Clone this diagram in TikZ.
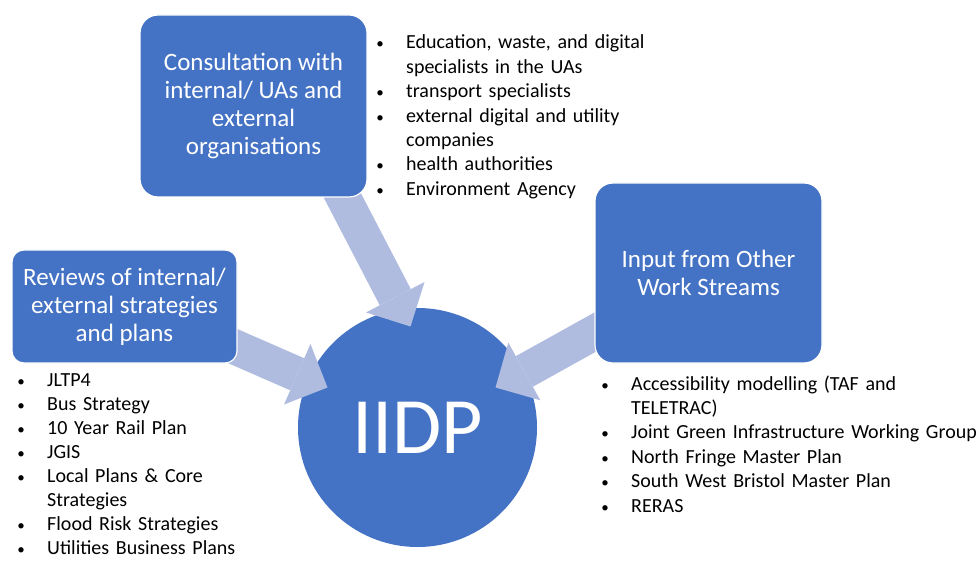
\documentclass[tikz,border=0pt]{standalone}
\usepackage{fontspec}
\setmainfont{Carlito}
\usetikzlibrary{positioning}
\usetikzlibrary{calc}
\usetikzlibrary{arrows.meta}
\definecolor{boxblue}{HTML}{4472C4}
\definecolor{flowblue}{HTML}{AFBCE0}
\pgfdeclarelayer{bg}
\pgfdeclarelayer{mid}
\pgfsetlayers{bg,mid,main}
\tikzset{
    box/.style = {rectangle, rounded corners=18pt, draw=white, line width=1.2pt, fill=boxblue, text=white, align=center, font=\fontsize{25}{28}\selectfont},
    hub/.style = {circle, fill=boxblue, text=white, minimum size=239pt, inner sep=0pt, font=\fontsize{80}{80}\selectfont},
    flow/.style = {draw=flowblue, line width=35pt, -{Triangle[width=66pt,length=33pt,line width=0pt]}},
    items/.style = {anchor=base west, inner sep=0pt, text width=#1, align=left, font=\fontsize{20}{24.4}\selectfont}, % bullet lists
}
\newcommand{\itm}{\makebox[0pt]{\fontsize{15}{15}\selectfont\textbullet}\hspace*{26pt}}
\newcommand{\cnt}{\hspace*{26pt}}

\begin{document}
\begin{tikzpicture}[x=1pt,y=-1pt]
\useasboundingbox (0,0) rectangle (979,561);
%
\begin{pgfonlayer}{bg}
\node[hub] at (417.5,427.5) (iidp) {IIDP};
\end{pgfonlayer}
\node[box, minimum width=227pt, minimum height=182pt] at (253.5,106) (cons) {Consultation with\\internal/ UAs and\\external\\organisations};
\node[box, minimum width=225pt, minimum height=113pt, rounded corners=12pt] at (124.5,306.5) (rev) {Reviews of internal/\\external strategies\\and plans};
\node[box, minimum width=227pt, minimum height=180pt] at (708.5,273) (inp) {Input from Other\\Work Streams};
%
\node[items=300pt] at (380,49) (consl) {\itm Education, waste, and digital\\ \cnt specialists in the UAs\\ \itm transport specialists\\ \itm external digital and utility\\ \cnt companies\\ \itm health authorities\\ \itm Environment Agency};
\node[items=300pt, font=\fontsize{20}{24.1}\selectfont] at (21,386) (revl) {\itm JLTP4\\ \itm Bus Strategy\\ \itm 10 Year Rail Plan\\ \itm JGIS\\ \itm Local Plans \& Core\\ \cnt Strategies\\ \itm Flood Risk Strategies\\ \itm Utilities Business Plans};
\node[items=380pt] at (605,390) (inpl) {\itm Accessibility modelling (TAF and\\ \cnt TELETRAC)\\ \itm Joint Green Infrastructure Working Group\\ \itm North Fringe Master Plan\\ \itm South West Bristol Master Plan\\ \itm RERAS};
%
\begin{pgfonlayer}{mid}
\draw[flow] ($(cons.south east)+(-33,-17)$) -- ($(iidp)+(-7,-101)$);
\draw[flow] ($(rev.south east)+(-22,-25)$) -- ($(iidp)+(-90,-40)$);
\draw[flow] ($(inp.south west)+(25,-45)$) -- ($(iidp)+(78,-40)$);
\end{pgfonlayer}
\end{tikzpicture}
\end{document}
